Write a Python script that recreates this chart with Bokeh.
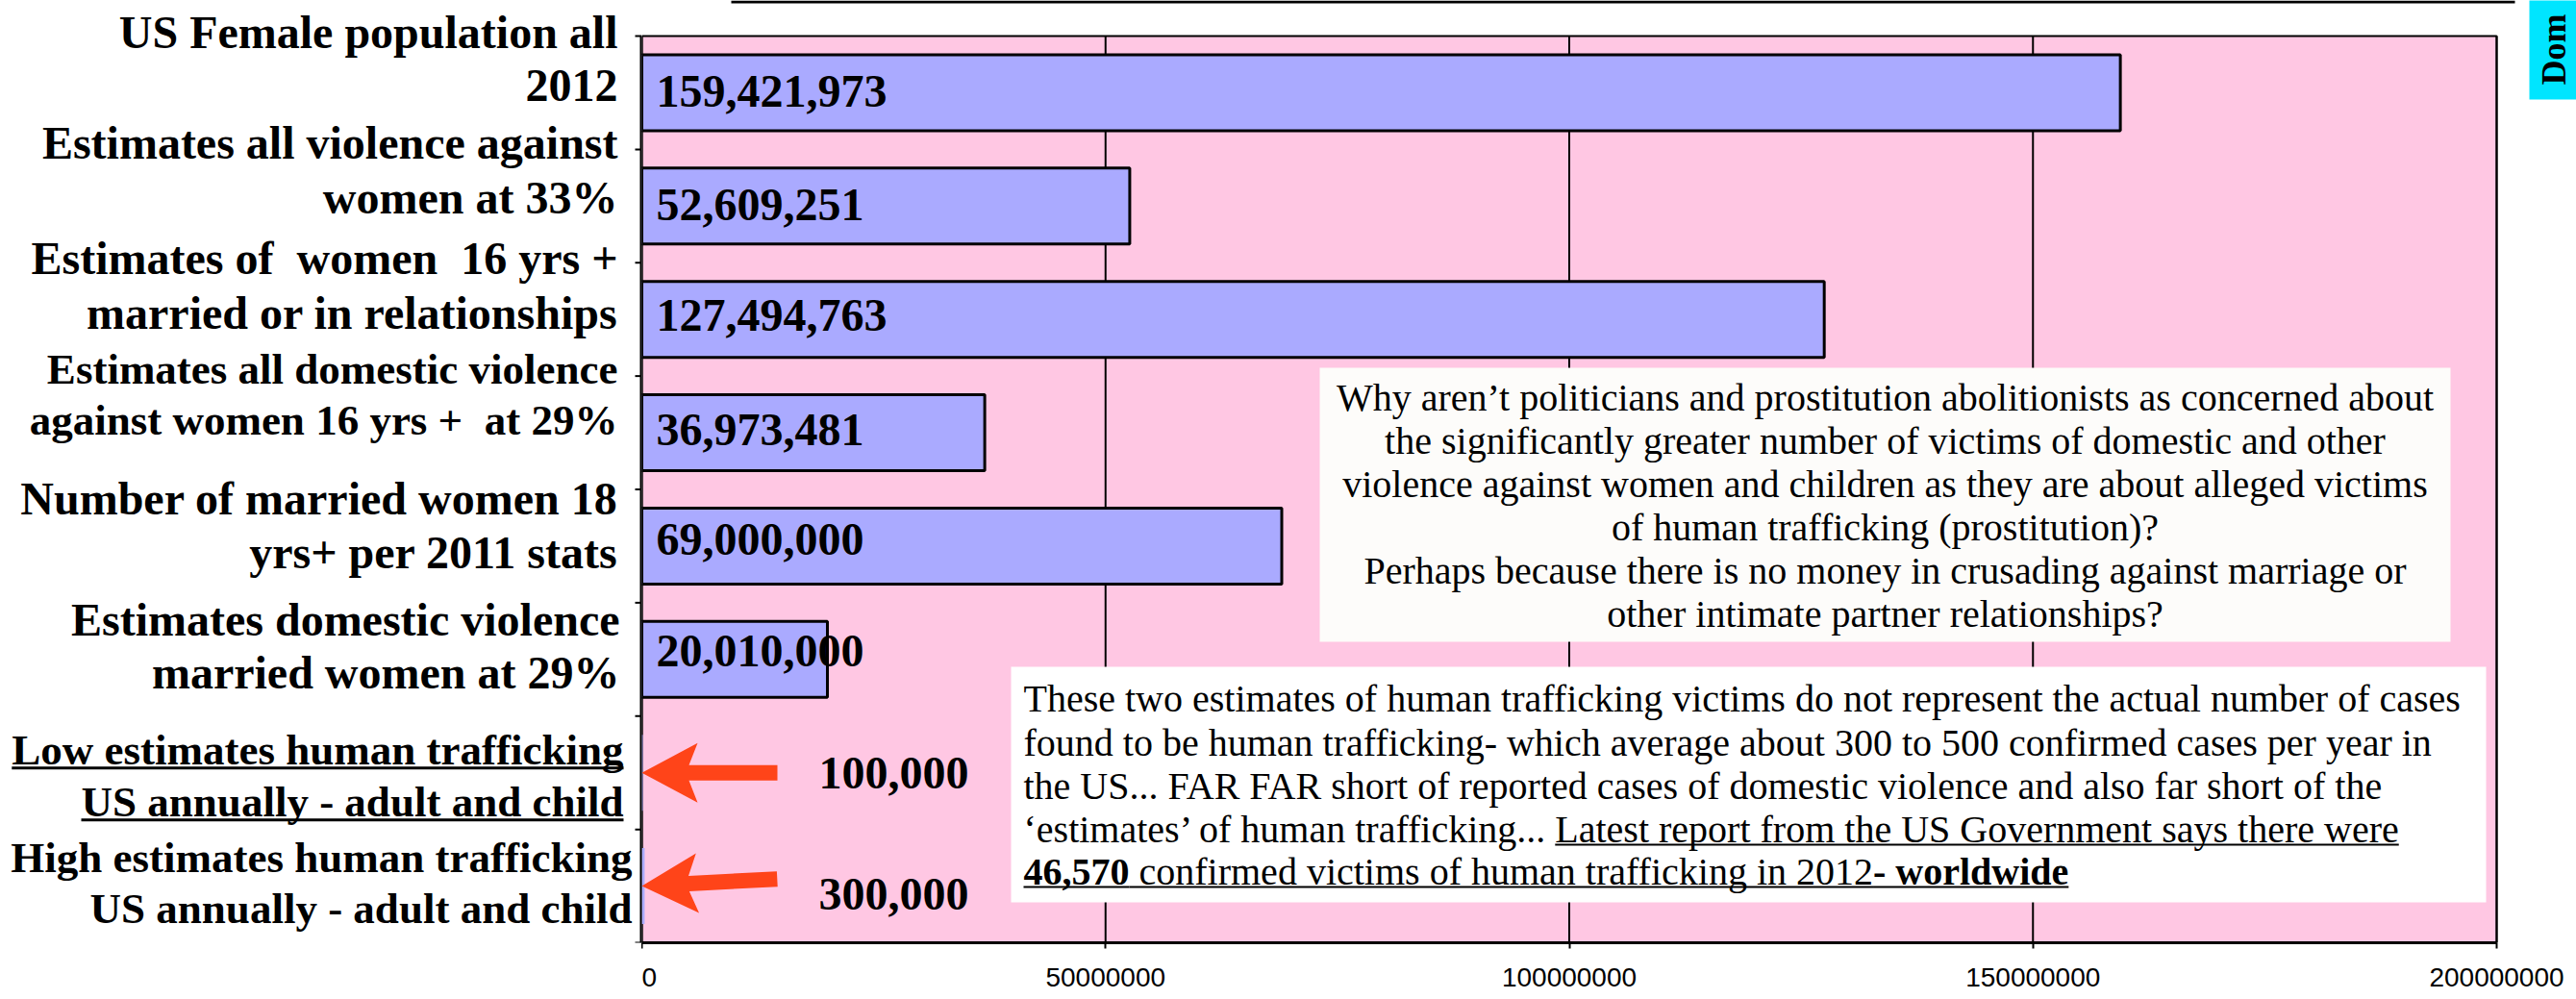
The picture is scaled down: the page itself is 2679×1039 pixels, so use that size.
import os
import glob
import math

from bokeh.plotting import figure
from bokeh.layouts import row
from bokeh.models import Range1d, FixedTicker, NumeralTickFormatter, ColumnDataSource
from bokeh.core.properties import value
from bokeh.embed import file_html
from bokeh.resources import INLINE

# ---------------- data ----------------
categories = [
    "US Female population all\n2012",
    "Estimates all violence against\nwomen at 33%",
    "Estimates of \u00a0women \u00a016 yrs +\nmarried or in relationships",
    "Estimates all domestic violence\nagainst women 16 yrs + \u00a0at 29%",
    "Number of married women 18\nyrs+ per 2011 stats",
    "Estimates domestic violence\nmarried women at 29%",
    "Low estimates human trafficking\nUS annually - adult and child",
    "High estimates human trafficking\nUS annually - adult and child",
]
counts = [159421973, 52609251, 127494763, 36973481, 69000000, 20010000, 100000, 300000]
x_ticks = [0, 50000000, 100000000, 150000000, 200000000]

note_question = [
    "Why aren\u2019t politicians and prostitution abolitionists as concerned about",
    "the significantly greater number of victims of domestic and other",
    "violence against women and children as they are about alleged victims",
    "of human trafficking (prostitution)?",
    "Perhaps because there is no money in crusading against marriage or",
    "other intimate partner relationships?",
]
# each line: list of (text, bold, underlined)
note_trafficking = [
    [("These two estimates of human trafficking victims do not represent the actual number of cases", False, False)],
    [("found to be human trafficking- which average about 300 to 500 confirmed cases per year in", False, False)],
    [("the US... FAR FAR short of reported cases of domestic violence and also far short of the", False, False)],
    [("\u2018estimates\u2019 of human trafficking... ", False, False),
     ("Latest report from the US Government says there were", False, True)],
    [("46,570", True, True),
     (" confirmed victims of human trafficking in 2012", False, True),
     ("- worldwide", True, True)],
]
side_tab = "Dom"

# ---------------- layout / style ----------------
CANVAS_W, CANVAS_H = 2679, 1039
PLOT_LEFT, PLOT_RIGHT = 667, 2596
PLOT_TOP, PLOT_BOTTOM = 37, 980
LEFT_W = PLOT_LEFT
MAIN_W = CANVAS_W - LEFT_W
BOTTOM_BORDER = CANVAS_H - PLOT_BOTTOM
PLOT_W = PLOT_RIGHT - PLOT_LEFT
N = len(categories)
BAND = (PLOT_BOTTOM - PLOT_TOP) / N
XMAX = x_ticks[-1]
BASE_FIX = 0.30  # empirical shift of the alphabetic baseline in the svg output (em)

PINK = "#FFC7E3"
BAR = "#AAAAFF"
ARROW = "#FF4419"
SERIF = value("Liberation Serif")


def dx(px):
    return px / PLOT_W * XMAX


def dy(px):
    return px / BAND


def ref_x(rx):
    return dx(rx - PLOT_LEFT)


def ref_y(ry):
    return dy(ry - PLOT_TOP)


try:
    from PIL import ImageFont
except Exception:
    ImageFont = None

_font_cache = {}


def _find(fname):
    for base in ("/usr/share/fonts", "/usr/local/share/fonts",
                 os.path.expanduser("~/.fonts"), os.path.expanduser("~/.local/share/fonts")):
        hits = glob.glob(os.path.join(base, "**", fname), recursive=True)
        if hits:
            return hits[0]
    return None


def text_w(s, size, bold=False):
    key = (size, bold)
    if key not in _font_cache:
        f = None
        path = _find("LiberationSerif-Bold.ttf" if bold else "LiberationSerif-Regular.ttf")
        if ImageFont is not None and path:
            try:
                f = ImageFont.truetype(path, size)
            except Exception:
                f = None
        _font_cache[key] = f
    f = _font_cache[key]
    if f is None:
        return len(s) * size * (0.47 if bold else 0.43)
    return f.getlength(s)


# ---------------- main chart ----------------
shared_y = Range1d(N, -dy(PLOT_TOP))
p = figure(width=MAIN_W, height=CANVAS_H,
           x_range=Range1d(0, XMAX * MAIN_W / PLOT_W),
           y_range=shared_y,
           output_backend="svg", toolbar_location=None,
           min_border_left=0, min_border_right=0,
           min_border_top=0, min_border_bottom=BOTTOM_BORDER)
p.background_fill_color = "white"
p.border_fill_color = "white"
p.outline_line_color = None
p.yaxis.visible = False
p.grid.visible = False

p.xaxis.ticker = FixedTicker(ticks=x_ticks)
p.xaxis.bounds = (0, XMAX)
p.xaxis.formatter = NumeralTickFormatter(format="0")
p.xaxis.axis_line_color = "black"
p.xaxis.axis_line_width = 3
p.xaxis.major_tick_line_color = "black"
p.xaxis.major_tick_line_width = 2
p.xaxis.major_tick_in = 0
p.xaxis.major_tick_out = 6
p.xaxis.minor_tick_line_color = None
p.xaxis.major_label_standoff = 20
p.xaxis.major_label_text_font = "Liberation Sans"
p.xaxis.major_label_text_font_size = "28px"
p.xaxis.major_label_text_color = "black"

# plot area
p.quad(left=[0], right=[XMAX], top=[0], bottom=[N], fill_color=PINK,
       line_color="black", line_width=2)
p.segment(x0=x_ticks, x1=x_ticks, y0=[0] * len(x_ticks), y1=[N] * len(x_ticks),
          line_color="black", line_width=2)

label_x_off = [15, 15, 15, 15, 15, 15, 184, 184]
label_base_off = [13, 13, 10, 11, 7, 6, 15, 23]
VAL_FS = 48
src = ColumnDataSource(dict(
    yc=[i + 0.5 for i in range(N)],
    count=counts,
    label=[f"{c:,}" for c in counts],
    xo=label_x_off,
    yo=[o - BASE_FIX * VAL_FS for o in label_base_off],
    lw=[3 if dx(10) < c else 0 for c in counts],
))
p.hbar(y="yc", left=0, right="count", height=0.67, source=src,
       fill_color=BAR, line_color="black", line_width="lw")
p.text(x=0, y="yc", text="label", x_offset="xo", y_offset="yo", source=src,
       text_font=SERIF, text_font_style="bold", text_font_size=f"{VAL_FS}px",
       text_color="black", text_align="left", text_baseline="alphabetic")

# red arrows pointing at the two tiny trafficking bars
arrow_rows = [6, 7]
arrow_tilt = [0.0, 3.0]
arrow_shape = [(0, 0), (58, -31), (49, -8), (141, -8), (141, 8), (49, 8), (58, 31)]
axs, ays = [], []
for r, tilt in zip(arrow_rows, arrow_tilt):
    t = math.radians(tilt)
    xs, ys = [], []
    for (px, py) in arrow_shape:
        qx = px * math.cos(t) + py * math.sin(t)
        qy = py * math.cos(t) - px * math.sin(t)
        xs.append(dx(qx))
        ys.append(r + 0.5 + dy(qy))
    axs.append(xs)
    ays.append(ys)
p.patches(axs, ays, fill_color=ARROW, line_color=None)

# note boxes
p.quad(left=[ref_x(1372)], right=[ref_x(2548)], top=[ref_y(382)], bottom=[ref_y(667)],
       fill_color="#FDFCFA", line_color=None)
p.quad(left=[ref_x(1051)], right=[ref_x(2585)], top=[ref_y(693)], bottom=[ref_y(938)],
       fill_color="white", line_color=None)

NOTE_FS = 40
q_base = [425, 470, 515, 560, 605, 650]
p.text(x=[ref_x(1960)] * len(note_question),
       y=[ref_y(b - BASE_FIX * NOTE_FS) for b in q_base], text=note_question,
       text_font=SERIF, text_font_size=f"{NOTE_FS}px", text_color="black",
       text_align="center", text_baseline="alphabetic")

t_base = [738, 784, 829, 874, 918]
reg = dict(x=[], y=[], text=[])
bld = dict(x=[], y=[], text=[])
ul = dict(x0=[], x1=[], y=[])
for line, b in zip(note_trafficking, t_base):
    cur = 0.0
    for (s, is_bold, is_ul) in line:
        w = text_w(s, NOTE_FS, is_bold)
        lead = len(s) - len(s.lstrip(" "))
        lead_w = text_w(" " * lead, NOTE_FS, is_bold) if lead else 0.0
        target = bld if is_bold else reg
        target["x"].append(ref_x(1064) + dx(cur + lead_w))
        target["y"].append(ref_y(b - BASE_FIX * NOTE_FS))
        target["text"].append(s.strip(" "))
        if is_ul:
            ul["x0"].append(ref_x(1064) + dx(cur))
            ul["x1"].append(ref_x(1064) + dx(cur + w))
            ul["y"].append(ref_y(b + 4))
        cur += w
p.text(x="x", y="y", text="text", source=ColumnDataSource(reg),
       text_font=SERIF, text_font_size=f"{NOTE_FS}px", text_color="black",
       text_align="left", text_baseline="alphabetic")
p.text(x="x", y="y", text="text", source=ColumnDataSource(bld),
       text_font=SERIF, text_font_style="bold", text_font_size=f"{NOTE_FS}px",
       text_color="black", text_align="left", text_baseline="alphabetic")
p.segment(x0="x0", x1="x1", y0="y", y1="y", source=ColumnDataSource(ul),
          line_color="black", line_width=2)

# slide decorations: rule along the top edge, cyan side tab at the right edge
p.segment(x0=[ref_x(760)], x1=[ref_x(2615)], y0=[ref_y(1.5)], y1=[ref_y(1.5)],
          line_color="black", line_width=3)
p.quad(left=[ref_x(2630)], right=[ref_x(2700)], top=[ref_y(-5)], bottom=[ref_y(103)],
       fill_color="#00E5FF", line_color=None)
TAB_FS = 36
p.text(x=[ref_x(2666 - BASE_FIX * TAB_FS)], y=[ref_y(88)], text=[side_tab], angle=math.pi / 2,
       text_font=SERIF, text_font_style="bold", text_font_size=f"{TAB_FS}px",
       text_color="black", text_align="left", text_baseline="alphabetic")

# ---------------- category labels (left panel) ----------------
lab = figure(width=LEFT_W, height=CANVAS_H, x_range=Range1d(0, LEFT_W), y_range=shared_y,
             output_backend="svg", toolbar_location=None,
             min_border_left=0, min_border_right=0, min_border_top=0,
             min_border_bottom=BOTTOM_BORDER)
lab.axis.visible = False
lab.grid.visible = False
lab.outline_line_color = None
lab.background_fill_color = "white"
lab.border_fill_color = "white"

label_right = [642, 642, 642, 642, 642, 644, 648, 657]
label_fs = [48, 48, 48, 45, 48, 48, 45, 45]
line_offsets = [(-49, 7), (-51, 6), (-49, 8), (-53, 0), (-35, 21), (-27, 28), (-10, 44), (-16, 37)]
label_underlined = [False, False, False, False, False, False, True, False]

ld = dict(x=[], y=[], text=[], fs=[])
lu = dict(x0=[], x1=[], y=[])
for i, cat in enumerate(categories):
    for line, off in zip(cat.split("\n"), line_offsets[i]):
        ld["x"].append(label_right[i])
        ld["y"].append(i + 0.5 + dy(off - BASE_FIX * label_fs[i]))
        ld["text"].append(line)
        ld["fs"].append(f"{label_fs[i]}px")
        if label_underlined[i]:
            w = text_w(line, label_fs[i], True)
            lu["x0"].append(label_right[i] - w)
            lu["x1"].append(label_right[i])
            lu["y"].append(i + 0.5 + dy(off + 5))
lab.text(x="x", y="y", text="text", text_font_size="fs", source=ColumnDataSource(ld),
         text_font=SERIF, text_font_style="bold", text_color="black",
         text_align="right", text_baseline="alphabetic")
lab.segment(x0="x0", x1="x1", y0="y", y1="y", source=ColumnDataSource(lu),
            line_color="black", line_width=3)
# category boundary tick marks of the value axis
bounds = list(range(N + 1))
lab.segment(x0=[LEFT_W - 7] * len(bounds), x1=[LEFT_W] * len(bounds), y0=bounds, y1=bounds,
            line_color="black", line_width=2)
lab.segment(x0=[LEFT_W - 1], x1=[LEFT_W - 1], y0=[0], y1=[N], line_color="black", line_width=2)

layout = row(lab, p, spacing=0)
open("out.html", "w").write(file_html(layout, INLINE))
